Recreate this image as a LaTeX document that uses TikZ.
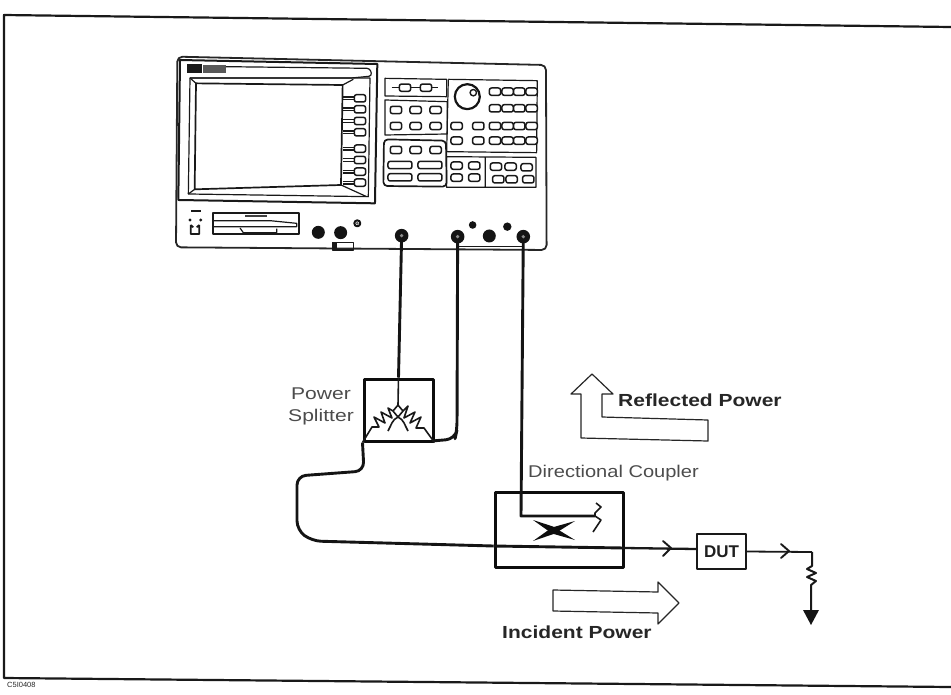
\documentclass[tikz,border=0pt]{standalone}
\usepackage{fontspec}
\setmainfont{Liberation Sans}
\begin{document}
\begin{tikzpicture}[x=1pt,y=-1pt,line join=round,
  frameline/.style={line width=2.2pt,black!90},
  panel/.style={line width=1.2pt,black!90},
  keycap/.style={draw=black!90,line width=1.5pt,rounded corners=2.2pt,fill=white},
  cable/.style={line width=2.9pt,black!92,rounded corners=9pt},
  thinwire/.style={line width=1.6pt,black!90},
  heavybox/.style={draw=black!95,line width=3pt,inner sep=0pt,rectangle},
  lightbox/.style={draw=black!90,line width=1.7pt,inner sep=0pt,rectangle},
  bigarrow/.style={draw=black!85,line width=1.2pt,fill=white},
  plainlabel/.style={font=\fontsize{17}{20}\selectfont,text=black!70,inner sep=0pt,xscale=1.18},
  boldlabel/.style={font=\fontsize{17.5}{20}\selectfont\bfseries,text=black!85,inner sep=0pt,xscale=1.2},
  chevron/.style={line width=1.9pt,black!90,line cap=round}]
\useasboundingbox (0,0) rectangle (951,694);
% outer frame
\draw[frameline] (951,27) -- (4,15) -- (4,678) -- (951,687);
% instrument (coordinates taken on a 3x grid)
\begin{scope}[shift={(160,50)},x=.3333pt,y=-.3333pt]
  \draw[line width=1.8pt,black!85,rounded corners=5pt] (52,20) -- (1158,45) -- (1160,600) -- (48,592) -- cycle;
  \draw[line width=2pt,black!90] (60,30) -- (652,42) -- (645,460) -- (55,450) -- cycle;
  \fill[black!90] (80,42) rectangle (125,68);
  \fill[black!65] (128,45) rectangle (198,68);
  \draw[panel,rounded corners=3pt] (198,50) -- (630,55) -- (636,78) -- (575,84) -- (90,84);
  \draw[panel] (90,84) -- (630,84) -- (625,440) -- (85,432) -- cycle;
  \draw[line width=1.7pt,black!90] (108,100) -- (548,105) -- (543,405) -- (104,418) -- cycle;
  \draw[panel] (90,84) -- (108,100) (548,105) -- (580,88) (543,405) -- (620,440) (104,418) -- (85,432);
  \foreach \y in {145,178,213,247,296,330,365,398}{
    \draw[panel] (548,\y-4) -- (585,\y-4) (548,\y+4) -- (585,\y+4);
    \draw[keycap] (583,\y-11) rectangle (617,\y+11);
  }
  % key groups
  \draw[panel] (675,85) -- (860,88) -- (860,140) -- (675,138) -- cycle;
  \draw[panel] (675,150) -- (862,155) -- (862,252) -- (675,255) -- cycle;
  \draw[line width=1.7pt,black!90,rounded corners=4pt] (672,268) -- (858,272) -- (860,410) -- (670,408) -- cycle;
  \draw[panel] (865,88) -- (1132,92) -- (1130,308) -- (860,305) -- (865,88);
  \draw[panel] (860,320) -- (1128,322) -- (1128,412) -- (860,412) -- cycle (976,322) -- (976,412);
  \draw[panel] (695,113) -- (835,113);
  \foreach \x/\y in {735/113,798/113,708/180,767/180,827/180,708/228,767/228,827/228,708/300,767/300,827/300,
    1005/125,1043/125,1078/125,1115/125,1005/175,1043/175,1078/175,1115/175,
    890/228,955/228,1005/228,1043/228,1078/228,1115/228,890/272,955/272,1005/272,1043/272,1078/272,1115/272,
    890/347,943/347,890/383,943/383,1008/350,1052/350,1100/352,1015/388,1055/388,1105/388}{
    \draw[keycap] (\x-17,\y-11) rectangle (\x+17,\y+11);
  }
  \foreach \x/\y in {720/345,810/345,720/382,810/382}{
    \draw[keycap] (\x-36,\y-11) rectangle (\x+36,\y+11);
  }
  \draw[line width=2.2pt,black!92] (922,140) circle[radius=12.5pt];
  \draw[line width=1.4pt,black!90] (940,128) circle[radius=3.2pt];
  % lower panel
  \fill[black!90] (93,481) rectangle (124,487);
  \fill[black!90] (90,510) circle[radius=1.6pt] (122,510) circle[radius=1.6pt];
  \draw[line width=1.7pt,black!90] (92,525) -- (92,552) -- (118,552) -- (118,525) (92,525) -- (100,532) (118,525) -- (110,532);
  \draw[line width=1.7pt,black!90] (160,490) rectangle (418,552);
  \draw[panel] (160,512) -- (330,512) -- (410,520) -- (410,530) -- (160,530);
  \draw[panel] (240,534) -- (250,548) -- (350,548) -- (350,536);
  \fill[black!75] (255,495) rectangle (320,500);
  \foreach \x/\y/\r in {475/547/6.5,542/548/6.5,938/525/3.8,1042/530/4.2}{
    \fill[black!92] (\x,\y) circle[radius=\r pt];
  }
  \draw[line width=2pt,black!92] (592,520) circle[radius=3pt];
  \fill[black!65] (592,520) circle[radius=1.4pt];
  \draw[line width=1.4pt,black!90] (518,578) rectangle (580,600);
  \fill[black!90] (518,578) rectangle (530,600);
  \fill[black!92] (988,558) circle[radius=6.5pt];
  \draw[line width=1.5pt,black!90] (893,590) -- (1090,590);
  \coordinate (porta) at (725,557);
  \coordinate (portb) at (893,560);
  \coordinate (portc) at (1090,560);
\end{scope}
% boxes
\node[heavybox,minimum width=69pt,minimum height=62pt] (splitter) at (398.5,410) {};
\node[heavybox,minimum width=128pt,minimum height=75pt] (coupler) at (559,529.5) {};
\node[lightbox,minimum width=49pt,minimum height=35pt,font=\fontsize{17}{18}\selectfont\bfseries,text=black!88] (dut) at (721.5,551.5) {DUT};
% labels
\node[plainlabel,align=center,font=\fontsize{17}{22}\selectfont,xscale=1.05] (lblsplit) at (321,406) {Power\\Splitter};
\node[plainlabel,anchor=west] (lblcoupler) at (528,473) {Directional Coupler};
\node[boldlabel,anchor=west] (lblrefl) at (618,400) {Reflected Power};
\node[boldlabel,anchor=west] (lblinc) at (502,632) {Incident Power};
\node[font=\fontsize{7.5}{8}\selectfont,text=black!85,inner sep=0pt,anchor=west] (code) at (7,685) {C5I0408};
% cables from the instrument
\draw[cable] (porta) -- (splitter.north);
\draw[cable] (portb) -- (457,430) -- (455,439) -- (432,441);
\draw[cable,rounded corners=0pt] (portc) -- (521,516) -- (595,516);
\draw[cable] (splitter.south west) -- (364,471) -- (297,476) -- (297,530) -- (312,541) -- (coupler.west |- 0,546);
\foreach \p in {porta,portb,portc}{
  \fill[black!92] (\p) circle[radius=6.8pt];
  \fill[black!45] (\p) circle[radius=1.8pt];
}
% splitter inner
\coordinate (apex) at (398,405);
\draw[thinwire] (splitter.north) -- (apex);
\draw[thinwire] (apex) -- (393,411) -- (398,417) -- (403,411) -- cycle;
\draw[thinwire] (393,411) -- (388,408) -- (392,418) -- (381,412) -- (385,423) -- (374,417) -- (379,427) -- (372,427) -- (splitter.south west);
\draw[thinwire] (403,411) -- (408,406) -- (404,418) -- (415,412) -- (410,423) -- (421,417) -- (416,428) -- (424,428) -- (splitter.south east);
\draw[thinwire] (398,417) to[out=205,in=60] (388,431);
\draw[thinwire] (398,417) to[out=-25,in=120] (408,431);
% coupler inner
\draw[line width=2.9pt,black!92] (coupler.west |- 0,546) -- (coupler.east |- 0,548);
\draw[thinwire] (595,516) -- (601,520) -- (593,532);
\draw[thinwire] (595,516) -- (595,513) -- (601,507) -- (596,503);
\fill[black!95] (533,520) -- (553,526.5) -- (575,540) -- (552,533.5) -- cycle;
\fill[black!95] (575,521) -- (555,533.5) -- (533,541) -- (552,527.5) -- cycle;
% through line to DUT and load
\coordinate (midone) at (671,548);
\coordinate (midtwo) at (789,551);
\coordinate (loadtop) at (812,552);
\coordinate (loadend) at (811,612);
\draw[line width=2.3pt,black!90] (coupler.east |- 0,548) -- (dut.west |- 0,549);
\draw[chevron] (663,541) -- (671,548) -- (663,556);
\draw[line width=1.8pt,black!90] (dut.east) -- (loadtop);
\draw[chevron] (781,544) -- (789,551) -- (781,558);
\draw[line width=2pt,black!90] (loadtop) -- (812,566) -- (807,569) -- (816,573) -- (807,577) -- (816,581) -- (811,585) -- (811,612);
\fill[black!92] (loadend) ++(-8,-2) -- ++(16,0) -- ++(-8,15) -- cycle;
% broad arrows
\draw[bigarrow] (592,374) -- (613,394) -- (602,394) -- (602,417) -- (708,420) -- (708,441) -- (581,438) -- (581,394) -- (571,394) -- cycle;
\draw[bigarrow] (553,590) -- (658,592) -- (658,582) -- (679,603) -- (658,624) -- (658,613) -- (553,611) -- cycle;
\end{tikzpicture}
\end{document}
